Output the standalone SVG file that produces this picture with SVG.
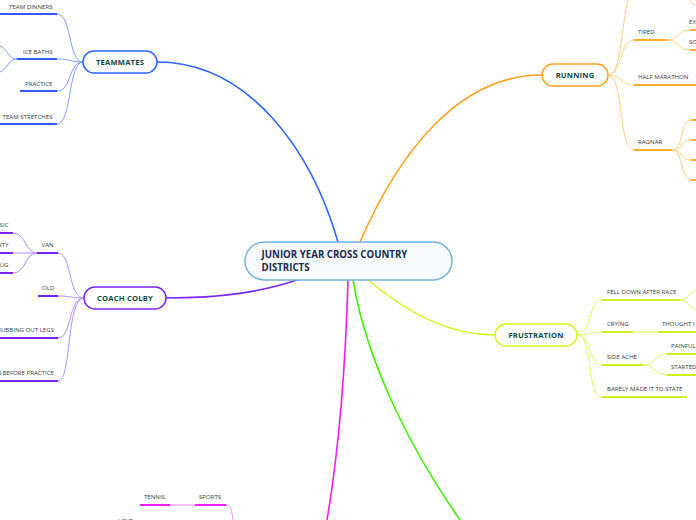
<svg xmlns="http://www.w3.org/2000/svg" width="696" height="520" viewBox="0 0 696 520">
<style>
.bg{fill:#ffffff}
.node{fill:#ffffff;stroke-width:1.5}
.nt{font-family:"Open Sans","Noto Sans",sans-serif;font-weight:bold;font-size:7.6px;fill:#0e4a3c;text-anchor:middle;letter-spacing:0.2px}
.ct{font-family:"Open Sans","Noto Sans",sans-serif;font-size:6.1px;fill:#3a3a3a}
.end{text-anchor:end}
.main{fill:none;stroke-width:1.6}
.sub{fill:none;stroke-width:1}
.ul{fill:none;stroke-width:2}
.blue .sub{stroke:#7f9dff}.blue .ul{stroke:#2f5bff}
.purple .sub{stroke:#b291ff}.purple .ul{stroke:#7426f0}
.orange .sub{stroke:#ffd08a}.orange .ul{stroke:#ffab2e}
.lime .sub{stroke:#e3f76a}.lime .ul{stroke:#cdf022}
.mag .sub{stroke:#f48bf4}.mag .ul{stroke:#ee1fee}
</style>
<rect class="bg" x="0" y="0" width="696" height="520"/>

<g id="connectors">
<path class="main" stroke="#2d63ff" d="M157,62 C250,62 312,152 338,242"/>
<path class="main" stroke="#ffa320" d="M360,242 C400,150 460,75 542,75"/>
<path class="main" stroke="#7a26f2" d="M166,298 C222,298 262,292 300,279"/>
<path class="main" stroke="#d6f324" d="M368,280 C410,315 450,335 495,335"/>
<path class="main" stroke="#45ec10" d="M353,280 C368,370 418,460 460,520"/>
<path class="main" stroke="#ee1cee" d="M348,280 Q344,420 327,520"/>
</g>

<g id="central">
<rect x="245" y="242" width="207" height="38" rx="19" fill="#f7fbff" stroke="#74b1de" stroke-width="1.5"/>
<text x="261.5" y="257.5" font-family="'Open Sans','Noto Sans',sans-serif" font-weight="bold" font-size="9.7" fill="#1b2a4e">JUNIOR YEAR CROSS COUNTRY</text>
<text x="261.5" y="271" font-family="'Open Sans','Noto Sans',sans-serif" font-weight="bold" font-size="9.7" fill="#1b2a4e">DISTRICTS</text>
</g>

<g id="teammates" class="blue">
<path class="sub" d="M83,62 C68,62 72,14 57,14"/>
<path class="sub" d="M83,62 C68,62 72,59 57,59"/>
<path class="sub" d="M83,62 C68,62 72,91 57,91"/>
<path class="sub" d="M83,62 C68,62 72,124 57,124"/>
<path class="sub" d="M17,59 C8,59 8,49 0,46"/>
<path class="sub" d="M17,59 C8,59 8,69 0,72"/>
<rect class="node" x="83" y="51" width="74" height="22" rx="11" stroke="#2d63ff"/>
<text class="nt" x="120" y="64.7">TEAMMATES</text>
<path class="ul" d="M0,14 H57"/><text class="ct end" x="52.5" y="9">TEAM DINNERS</text>
<path class="ul" d="M17,59 H57"/><text class="ct end" x="52.5" y="54">ICE BATHS</text>
<path class="ul" d="M20,91 H57"/><text class="ct end" x="52.5" y="86">PRACTICE</text>
<path class="ul" d="M0,124 H57"/><text class="ct end" x="52.5" y="119">TEAM STRETCHES</text>
</g>

<g id="coach-colby" class="purple">
<path class="sub" d="M84,298 C68,298 72,253 58,253"/>
<path class="sub" d="M84,298 C70,298 72,296 58,296"/>
<path class="sub" d="M84,298 C68,298 72,338 58,338"/>
<path class="sub" d="M84,298 C66,298 72,381 58,381"/>
<path class="sub" d="M37,253 C25,253 26,233 13,233"/>
<path class="sub" d="M37,253 H13"/>
<path class="sub" d="M37,253 C25,253 26,273 13,273"/>
<rect class="node" x="84" y="287" width="82" height="22" rx="11" stroke="#7a26f2"/>
<text class="nt" x="125" y="300.7">COACH COLBY</text>
<path class="ul" d="M37,253 H58"/><text class="ct" x="41.5" y="247">VAN</text>
<path class="ul" d="M38,296 H58"/><text class="ct" x="42" y="290">OLD</text>
<path class="ul" d="M0,338 H58"/><text class="ct end" x="54" y="332">RUBBING OUT LEGS</text>
<path class="ul" d="M0,381 H58"/><text class="ct end" x="54" y="375">N BEFORE PRACTICE</text>
<path class="ul" d="M0,233 H13"/><text class="ct end" x="8.5" y="227">SIC</text>
<path class="ul" d="M0,253 H13"/><text class="ct end" x="8.5" y="247">RTY</text>
<path class="ul" d="M0,273 H13"/><text class="ct end" x="8.5" y="267">UG</text>
</g>

<g id="running" class="orange">
<path class="sub" d="M608,75 C624,75 620,10 634,-20"/>
<path class="sub" d="M608,75 C622,75 620,40 634,40"/>
<path class="sub" d="M608,75 C622,75 620,85 634,85"/>
<path class="sub" d="M608,75 C624,75 618,150 634,150"/>
<path class="sub" d="M667,40 C680,40 678,30 690,30"/>
<path class="sub" d="M667,40 C680,40 678,50 690,50"/>
<path class="sub" d="M672,150 C684,150 680,120 691,120"/>
<path class="sub" d="M672,150 C684,150 680,140 691,140"/>
<path class="sub" d="M672,150 C684,150 680,160 691,160"/>
<path class="sub" d="M672,150 C684,150 680,180 691,180"/>
<path class="sub" d="M684,-5 C690,-3 690,4 696,5"/>
<rect class="node" x="542" y="64" width="66" height="22" rx="11" stroke="#ffa320"/>
<text class="nt" x="575" y="77.7">RUNNING</text>
<path class="ul" d="M634,40 H667"/><text class="ct" x="638" y="34">TIRED</text>
<path class="ul" d="M690,30 H696"/><text class="ct" x="689" y="24">EX</text>
<path class="ul" d="M690,50 H696"/><text class="ct" x="689" y="44">SO</text>
<path class="ul" d="M634,85 H696"/><text class="ct" x="638" y="79">HALF MARATHON</text>
<path class="ul" d="M634,150 H672"/><text class="ct" x="638" y="144">RAGNAR</text>
<path class="ul" d="M691,120 H696"/>
<path class="ul" d="M691,140 H696"/>
<path class="ul" d="M691,160 H696"/>
<path class="ul" d="M691,180 H696"/>
</g>

<g id="frustration" class="lime">
<path class="sub" d="M577,335 C592,335 588,300 602,300"/>
<path class="sub" d="M577,335 C592,335 588,332 602,332"/>
<path class="sub" d="M577,335 C592,335 588,365 602,365"/>
<path class="sub" d="M577,335 C594,335 586,397 602,397"/>
<path class="sub" d="M680,300 C688,300 690,292 696,290"/>
<path class="sub" d="M680,300 C688,300 690,308 696,310"/>
<path class="sub" d="M633,332 H658"/>
<path class="sub" d="M643,365 C656,365 654,354 667,354"/>
<path class="sub" d="M643,365 C656,365 654,375 667,375"/>
<rect class="node" x="495" y="324" width="82" height="22" rx="11" stroke="#d6f324"/>
<text class="nt" x="536" y="337.7">FRUSTRATION</text>
<path class="ul" d="M602,300 H680"/><text class="ct" x="607" y="294">FELL DOWN AFTER RACE</text>
<path class="ul" d="M602,332 H633"/><text class="ct" x="607" y="326">CRYING</text>
<path class="ul" d="M658,332 H696"/><text class="ct" x="662" y="326">THOUGHT I</text>
<path class="ul" d="M602,365 H643"/><text class="ct" x="607" y="359">SIDE ACHE</text>
<path class="ul" d="M667,354 H696"/><text class="ct" x="671" y="348">PAINFUL</text>
<path class="ul" d="M667,375 H696"/><text class="ct" x="671" y="369">STARTED</text>
<path class="ul" d="M602,397 H687"/><text class="ct" x="607" y="391">BARELY MADE IT TO STATE</text>
</g>

<g id="sports" class="mag">
<path class="sub" d="M170,505 H195"/>
<path class="sub" d="M226,505 C231,505 232,512 233,520"/>
<path class="ul" d="M140,505 H170"/><text class="ct" x="144" y="499">TENNIS</text>
<path class="ul" d="M195,505 H226"/><text class="ct" x="199" y="499">SPORTS</text>
<text class="ct" x="118" y="522.6">LOVE</text>
</g>
</svg>
